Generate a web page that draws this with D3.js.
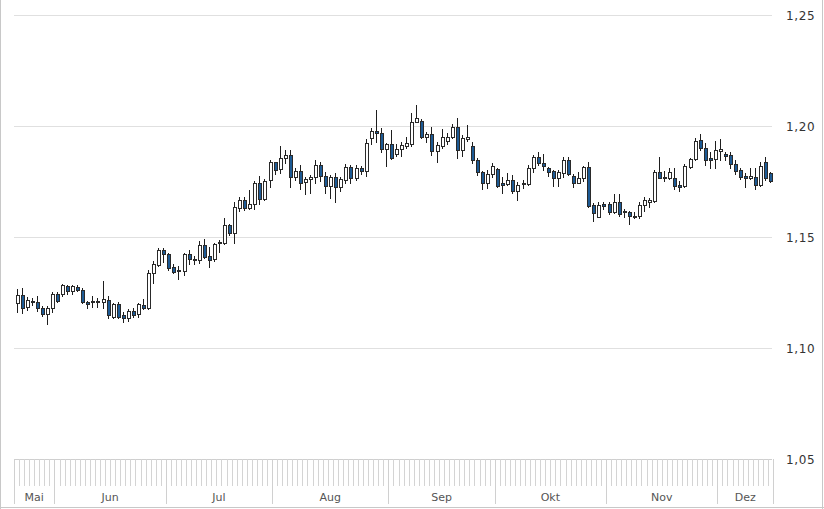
<!DOCTYPE html>
<html>
<head>
<meta charset="utf-8">
<script src="https://cdn.jsdelivr.net/npm/d3@7"></script>
<style>
  html, body { margin: 0; padding: 0; background: #fff; }
  svg { display: block; }
</style>
</head>
<body>
<div id="chart"></div>
<script>
// 日线 K 线图，右侧价格轴，底部月份轴

// 月份（起始 K 线序号）
const monthLabels = ['Mai', 'Jun', 'Jul', 'Aug', 'Sep', 'Okt', 'Nov', 'Dez'];
const monthStarts = [0, 8, 30, 51, 74, 95, 117, 139];

// 价格刻度
const yTicks = [1.05, 1.10, 1.15, 1.20, 1.25];

// OHLC
const open = [
  1.1202,1.1239,1.1184,1.1206,1.1206,1.1179,1.1152,1.1179,1.1244,1.1242,
  1.1280,1.1257,1.1277,1.1262,1.1206,1.1206,1.1212,1.1209,1.1217,1.1141,
  1.1199,1.1149,1.1134,1.1167,1.1152,1.1194,1.1182,1.1337,1.1374,1.1442,
  1.1424,1.1364,1.1347,1.1347,1.1423,1.1397,1.1397,1.1463,1.1415,1.1400,
  1.1472,1.1475,1.1555,1.1517,1.1632,1.1667,1.1631,1.1648,1.1745,1.1671,
  1.1757,1.1837,1.1805,1.1855,1.1870,1.1772,1.1798,1.1747,1.1760,1.1769,
  1.1825,1.1775,1.1731,1.1769,1.1724,1.1757,1.1817,1.1765,1.1810,1.1799,
  1.1945,1.1978,1.1967,1.1897,1.1918,1.1874,1.1895,1.1911,1.1918,1.2020,
  1.2023,1.1952,1.1963,1.1888,1.1911,1.1934,1.1950,1.1994,1.1892,1.1941,
  1.1911,1.1847,1.1792,1.1742,1.1783,1.1805,1.1742,1.1738,1.1757,1.1709,
  1.1738,1.1740,1.1810,1.1862,1.1835,1.1810,1.1798,1.1765,1.1790,1.1847,
  1.1775,1.1745,1.1765,1.1817,1.1644,1.1592,1.1649,1.1649,1.1614,1.1657,
  1.1617,1.1612,1.1592,1.1596,1.1644,1.1657,1.1662,1.1794,1.1772,1.1767,
  1.1767,1.1735,1.1731,1.1817,1.1850,1.1937,1.1900,1.1855,1.1850,1.1888,
  1.1873,1.1870,1.1828,1.1802,1.1776,1.1767,1.1772,1.1735,1.1837,1.1787
];
const high = [
  1.1265,1.1269,1.1229,1.1227,1.1232,1.1191,1.1191,1.1251,1.1254,1.1287,
  1.1284,1.1284,1.1284,1.1269,1.1212,1.1232,1.1224,1.1304,1.1232,1.1202,
  1.1209,1.1164,1.1175,1.1179,1.1204,1.1220,1.1352,1.1392,1.1450,1.1450,
  1.1427,1.1379,1.1370,1.1427,1.1442,1.1415,1.1482,1.1490,1.1454,1.1475,
  1.1487,1.1585,1.1559,1.1657,1.1679,1.1679,1.1712,1.1750,1.1775,1.1760,
  1.1847,1.1840,1.1910,1.1892,1.1892,1.1810,1.1825,1.1769,1.1780,1.1847,
  1.1840,1.1794,1.1780,1.1790,1.1769,1.1828,1.1825,1.1825,1.1820,1.1941,
  1.1990,1.2072,1.1990,1.1922,1.1982,1.1918,1.1930,1.1950,1.2058,1.2095,
  1.2032,1.1974,1.1994,1.1930,1.1986,1.1967,1.2008,1.2035,1.1960,1.2005,
  1.1930,1.1858,1.1798,1.1802,1.1835,1.1810,1.1772,1.1787,1.1780,1.1747,
  1.1757,1.1825,1.1870,1.1882,1.1874,1.1817,1.1802,1.1802,1.1860,1.1860,
  1.1784,1.1792,1.1822,1.1840,1.1652,1.1659,1.1659,1.1659,1.1693,1.1693,
  1.1626,1.1617,1.1612,1.1657,1.1682,1.1675,1.1802,1.1860,1.1798,1.1810,
  1.1810,1.1753,1.1828,1.1858,1.1945,1.1963,1.1922,1.1884,1.1933,1.1942,
  1.1884,1.1882,1.1847,1.1812,1.1787,1.1812,1.1812,1.1837,1.1862,1.1794
];
const low = [
  1.1161,1.1157,1.1172,1.1194,1.1167,1.1145,1.1107,1.1164,1.1206,1.1236,
  1.1242,1.1242,1.1257,1.1202,1.1179,1.1186,1.1184,1.1179,1.1134,1.1137,
  1.1137,1.1119,1.1123,1.1141,1.1141,1.1176,1.1175,1.1292,1.1370,1.1389,
  1.1352,1.1337,1.1310,1.1329,1.1379,1.1379,1.1382,1.1405,1.1367,1.1394,
  1.1434,1.1469,1.1510,1.1475,1.1619,1.1622,1.1626,1.1625,1.1648,1.1667,
  1.1724,1.1784,1.1787,1.1835,1.1727,1.1757,1.1715,1.1694,1.1700,1.1742,
  1.1750,1.1697,1.1675,1.1659,1.1705,1.1745,1.1745,1.1757,1.1784,1.1775,
  1.1918,1.1930,1.1882,1.1822,1.1852,1.1867,1.1865,1.1900,1.1910,1.2017,
  1.1947,1.1927,1.1870,1.1837,1.1902,1.1919,1.1945,1.1858,1.1867,1.1932,
  1.1832,1.1780,1.1717,1.1720,1.1772,1.1727,1.1697,1.1735,1.1697,1.1667,
  1.1720,1.1735,1.1794,1.1825,1.1802,1.1776,1.1730,1.1730,1.1769,1.1780,
  1.1724,1.1742,1.1754,1.1637,1.1574,1.1590,1.1625,1.1604,1.1608,1.1596,
  1.1592,1.1558,1.1584,1.1584,1.1617,1.1637,1.1659,1.1765,1.1753,1.1761,
  1.1717,1.1708,1.1727,1.1813,1.1847,1.1892,1.1825,1.1813,1.1810,1.1847,
  1.1847,1.1810,1.1783,1.1761,1.1727,1.1760,1.1717,1.1731,1.1757,1.1747
];
const close = [
  1.1239,1.1182,1.1217,1.1212,1.1182,1.1152,1.1182,1.1244,1.1212,1.1284,
  1.1257,1.1280,1.1262,1.1206,1.1199,1.1212,1.1206,1.1220,1.1149,1.1199,
  1.1141,1.1134,1.1167,1.1149,1.1197,1.1182,1.1337,1.1377,1.1442,1.1423,
  1.1362,1.1344,1.1352,1.1423,1.1400,1.1403,1.1463,1.1412,1.1397,1.1469,
  1.1479,1.1555,1.1517,1.1634,1.1667,1.1632,1.1648,1.1745,1.1671,1.1753,
  1.1840,1.1802,1.1855,1.1870,1.1772,1.1799,1.1745,1.1761,1.1772,1.1825,
  1.1775,1.1730,1.1772,1.1724,1.1760,1.1817,1.1765,1.1813,1.1799,1.1923,
  1.1978,1.1967,1.1895,1.1918,1.1858,1.1897,1.1915,1.1922,1.2017,1.2035,
  1.1952,1.1964,1.1888,1.1915,1.1950,1.1950,1.1994,1.1892,1.1945,1.1950,
  1.1847,1.1792,1.1742,1.1785,1.1820,1.1731,1.1735,1.1757,1.1705,1.1735,
  1.1745,1.1810,1.1862,1.1832,1.1822,1.1794,1.1765,1.1794,1.1847,1.1783,
  1.1745,1.1765,1.1817,1.1640,1.1610,1.1644,1.1641,1.1614,1.1657,1.1603,
  1.1612,1.1595,1.1596,1.1644,1.1667,1.1667,1.1794,1.1767,1.1765,1.1794,
  1.1730,1.1727,1.1822,1.1850,1.1933,1.1900,1.1847,1.1847,1.1892,1.1895,
  1.1865,1.1828,1.1798,1.1772,1.1767,1.1775,1.1735,1.1822,1.1765,1.1753
];

const width = 824;
const height = 509;
const plot = { left: 14, right: 773, top: 15, bottom: 459 };

const candles = open.map((o, i) => ({ i, o, h: high[i], l: low[i], c: close[i] }));

const svg = d3.select('#chart')
  .append('svg')
  .attr('width', width)
  .attr('height', height)
  .style('font-family', '"DejaVu Sans", Verdana, sans-serif');

// 比例尺
const x = d3.scaleBand()
  .domain(d3.range(candles.length))
  .range([plot.left, plot.right]);

const y = d3.scaleLinear()
  .domain([1.05, 1.25])
  .range([plot.bottom, plot.top]);

const fmt = d3.formatLocale({ decimal: ',', thousands: '.', grouping: [3], currency: ['', ''] }).format('.2f');

// 外框（左、右、下）
const border = svg.append('g')
  .attr('stroke', '#c8c8c8')
  .attr('shape-rendering', 'crispEdges');
border.append('line').attr('x1', 0.5).attr('x2', 0.5).attr('y1', 0).attr('y2', height);
border.append('line').attr('x1', width - 1.5).attr('x2', width - 1.5).attr('y1', 0).attr('y2', height);
border.append('line').attr('x1', 0).attr('x2', width).attr('y1', height - 1.5).attr('y2', height - 1.5);

// 水平网格 + 右侧标签
const yAxis = svg.append('g');
yAxis.selectAll('line')
  .data(yTicks)
  .join('line')
  .attr('x1', plot.left)
  .attr('x2', plot.right - 1)
  .attr('y1', d => Math.round(y(d)) + 0.5)
  .attr('y2', d => Math.round(y(d)) + 0.5)
  .attr('stroke', (d, i) => i === 0 ? '#cfcfcf' : '#e0e0e0')
  .attr('shape-rendering', 'crispEdges');
yAxis.selectAll('text')
  .data(yTicks)
  .join('text')
  .attr('x', 786)
  .attr('y', d => y(d) + 4.5)
  .attr('font-size', 12)
  .attr('letter-spacing', 0.6)
  .attr('fill', '#333')
  .text(d => fmt(d));

// 底部日刻度
const xAxis = svg.append('g').attr('shape-rendering', 'crispEdges');
xAxis.selectAll('line.day')
  .data(d3.range(candles.length + 1))
  .join('line')
  .attr('class', 'day')
  .attr('x1', k => Math.round(plot.left + k * x.step()) + 0.5)
  .attr('x2', k => Math.round(plot.left + k * x.step()) + 0.5)
  .attr('y1', plot.bottom)
  .attr('y2', 486)
  .attr('stroke', '#d4d4d4');

// 月份分隔线与标签
const bounds = monthStarts.map(s => x(s)).concat([plot.right]);
xAxis.selectAll('line.month')
  .data(bounds)
  .join('line')
  .attr('class', 'month')
  .attr('x1', d => Math.round(d) + 0.5)
  .attr('x2', d => Math.round(d) + 0.5)
  .attr('y1', plot.bottom)
  .attr('y2', 504)
  .attr('stroke', '#d0d0d0');
svg.append('g')
  .selectAll('text')
  .data(monthLabels)
  .join('text')
  .attr('x', (d, i) => (bounds[i] + bounds[i + 1]) / 2)
  .attr('y', 501)
  .attr('text-anchor', 'middle')
  .attr('font-size', 11)
  .attr('fill', '#555')
  .text(d => d);

// K 线
const cx = d => Math.round(x(d.i) + x.bandwidth() / 2);
const g = svg.append('g').attr('shape-rendering', 'crispEdges');

g.selectAll('line.wick')
  .data(candles)
  .join('line')
  .attr('class', 'wick')
  .attr('x1', d => cx(d) + 0.5)
  .attr('x2', d => cx(d) + 0.5)
  .attr('y1', d => Math.round(y(Math.max(d.h, d.o, d.c))))
  .attr('y2', d => Math.round(y(Math.min(d.l, d.o, d.c))) + 1)
  .attr('stroke', '#1e1e1e');

g.selectAll('rect.body')
  .data(candles)
  .join('rect')
  .attr('class', 'body')
  .attr('x', d => cx(d) - 1)
  .attr('y', d => Math.round(y(Math.max(d.o, d.c))) + 0.5)
  .attr('width', 3)
  .attr('height', d => Math.max(1, Math.round(y(Math.min(d.o, d.c))) - Math.round(y(Math.max(d.o, d.c)))))
  .attr('fill', d => d.c >= d.o ? '#ffffff' : '#1d5a94')
  .attr('stroke', '#2a2a2a')
  .attr('stroke-width', 1);
</script>
</body>
</html>
